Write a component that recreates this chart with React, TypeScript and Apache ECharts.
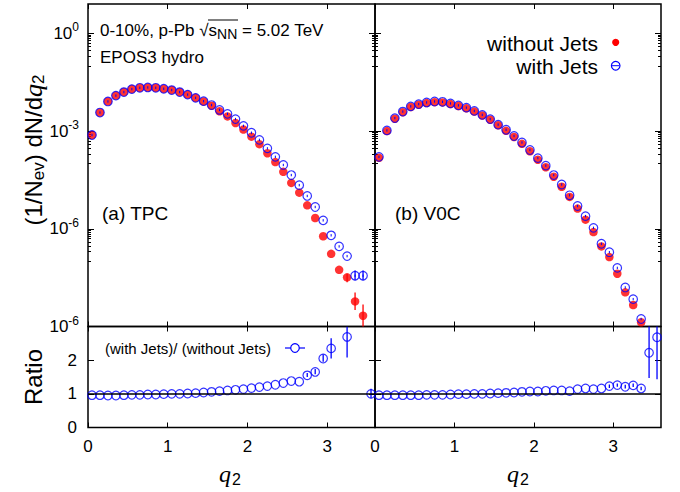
import React, { useEffect, useRef } from 'react';
import * as echarts from 'echarts';

// ---------------- data ----------------
const X_TPC = [0.05, 0.15, 0.25, 0.35, 0.45, 0.55, 0.65, 0.75, 0.85, 0.95, 1.05, 1.15, 1.25, 1.35, 1.45, 1.55, 1.65, 1.75, 1.85, 1.95, 2.05, 2.15, 2.25, 2.35, 2.45, 2.55, 2.65, 2.75, 2.85, 2.95, 3.05, 3.15, 3.25, 3.35, 3.45];
const TPC_WITHOUT = [7.59e-4, 3.72e-3, 8.13e-3, 1.23e-2, 1.58e-2, 1.95e-2, 2.14e-2, 2.19e-2, 2.14e-2, 2.0e-2, 1.82e-2, 1.58e-2, 1.32e-2, 1.05e-2, 8.13e-3, 6.03e-3, 4.07e-3, 2.82e-3, 1.78e-3, 1.12e-3, 6.76e-4, 3.98e-4, 2.09e-4, 1.12e-4, 5.62e-5, 2.57e-5, 1.29e-5, 5.25e-6, 2.14e-6, 5.89e-7, 1.7e-7, 5.5e-8, 3.24e-8, 5.9e-9, 2.14e-9];
const TPC_WITH = [7.59e-4, 3.72e-3, 8.13e-3, 1.23e-2, 1.58e-2, 1.95e-2, 2.14e-2, 2.19e-2, 2.14e-2, 2.0e-2, 1.82e-2, 1.58e-2, 1.32e-2, 1.05e-2, 8.32e-3, 6.31e-3, 4.47e-3, 3.39e-3, 2.34e-3, 1.45e-3, 8.91e-4, 5.37e-4, 2.95e-4, 1.62e-4, 9.12e-5, 4.47e-5, 2.19e-5, 1.02e-5, 4.68e-6, 1.82e-6, 6.31e-7, 2.88e-7, 1.45e-7, 3.63e-8, 3.63e-8];

const X_V0C = [0.05, 0.15, 0.25, 0.35, 0.45, 0.55, 0.65, 0.75, 0.85, 0.95, 1.05, 1.15, 1.25, 1.35, 1.45, 1.55, 1.65, 1.75, 1.85, 1.95, 2.05, 2.15, 2.25, 2.35, 2.45, 2.55, 2.65, 2.75, 2.85, 2.95, 3.05, 3.15, 3.25, 3.35];
const V0C_WITHOUT = [1.51e-4, 1.0e-3, 2.4e-3, 3.8e-3, 5.5e-3, 6.46e-3, 7.24e-3, 7.76e-3, 7.59e-3, 6.76e-3, 5.89e-3, 5.01e-3, 3.98e-3, 3.02e-3, 2.24e-3, 1.51e-3, 1.02e-3, 6.61e-4, 4.07e-4, 2.4e-4, 1.32e-4, 7.76e-5, 3.98e-5, 1.95e-5, 9.55e-6, 4.17e-6, 1.91e-6, 7.94e-7, 2.88e-7, 1.35e-7, 4.17e-8, 1.12e-8, 4.57e-9, 1.35e-9];
const V0C_WITH = [1.62e-4, 1.05e-3, 2.51e-3, 3.98e-3, 5.75e-3, 6.76e-3, 7.59e-3, 8.13e-3, 7.94e-3, 7.08e-3, 6.17e-3, 5.25e-3, 4.17e-3, 3.16e-3, 2.34e-3, 1.58e-3, 1.1e-3, 7.08e-4, 4.47e-4, 2.63e-4, 1.48e-4, 8.71e-5, 4.47e-5, 2.29e-5, 1.07e-5, 5.01e-6, 2.45e-6, 1.07e-6, 3.47e-7, 1.91e-7, 6.31e-8, 1.58e-8, 6.92e-9, 1.7e-9];

const X_RATIO_TPC = [0.05, 0.15, 0.25, 0.35, 0.45, 0.55, 0.65, 0.75, 0.85, 0.95, 1.05, 1.15, 1.25, 1.35, 1.45, 1.55, 1.65, 1.75, 1.85, 1.95, 2.05, 2.15, 2.25, 2.35, 2.45, 2.55, 2.65, 2.75, 2.85, 2.95, 3.05, 3.25, 3.55];
const RATIO_TPC = [0.96, 0.96, 0.95, 0.95, 0.96, 0.97, 0.97, 0.98, 0.98, 0.99, 1.0, 1.0, 1.01, 1.02, 1.04, 1.06, 1.08, 1.1, 1.12, 1.14, 1.17, 1.2, 1.23, 1.27, 1.32, 1.38, 1.36, 1.55, 1.65, 2.05, 2.35, 2.69, 1.0];
const X_RATIO_V0C = [0.05, 0.15, 0.25, 0.35, 0.45, 0.55, 0.65, 0.75, 0.85, 0.95, 1.05, 1.15, 1.25, 1.35, 1.45, 1.55, 1.65, 1.75, 1.85, 1.95, 2.05, 2.15, 2.25, 2.35, 2.45, 2.55, 2.65, 2.75, 2.85, 2.95, 3.05, 3.15, 3.25, 3.35, 3.45, 3.55];
const RATIO_V0C = [0.96, 0.96, 0.96, 0.96, 0.96, 0.96, 0.97, 0.97, 0.97, 0.98, 0.99, 0.99, 1.0, 1.0, 1.01, 1.02, 1.03, 1.04, 1.06, 1.07, 1.07, 1.09, 1.1, 1.1, 1.08, 1.14, 1.16, 1.14, 1.16, 1.23, 1.26, 1.21, 1.25, 1.16, 2.22, 2.68];

// visible error bars
const ERR_TPC_WITHOUT_X = [3.25, 3.35, 3.45];
const ERR_TPC_WITHOUT_LO = [2.3e-8, 3.2e-9, 9.3e-10];
const ERR_TPC_WITHOUT_HI = [4.1e-8, 1.1e-8, 4.7e-9];
const ERR_TPC_WITH_X = [3.35, 3.45];
const ERR_TPC_WITH_LO = [2.6e-8, 2.6e-8];
const ERR_TPC_WITH_HI = [5.2e-8, 5.2e-8];
const ERR_RATIO_TPC_X = [2.75, 2.85, 2.95, 3.05, 3.25, 3.55];
const ERR_RATIO_TPC_LO = [1.5, 1.58, 1.95, 2.05, 2.08, 0.87];
const ERR_RATIO_TPC_HI = [1.62, 1.74, 2.17, 2.65, 3.0, 1.15];
const ERR_RATIO_V0C_X = [2.95, 3.05, 3.15, 3.25, 3.35, 3.45, 3.55];
const ERR_RATIO_V0C_LO = [1.17, 1.21, 1.16, 1.2, 1.11, 1.47, 1.43];
const ERR_RATIO_V0C_HI = [1.28, 1.31, 1.27, 1.31, 1.21, 3.3, 3.3];

// axes
const X_TICKS = [0, 1, 2, 3];
const LOG_MAJOR = [1e-9, 1e-6, 1e-3, 1];
const LOG_MAJOR_LABELS = ['10^-6', '10^-6', '10^-3', '10^0']; // as printed in the figure
const LOG_MINOR = [0.1, 0.2, 0.3, 0.4, 0.5, 0.6, 0.7, 0.8, 0.9, 1e-4, 2e-4, 3e-4, 4e-4, 5e-4, 6e-4, 7e-4, 8e-4, 9e-4, 1e-7, 2e-7, 3e-7, 4e-7, 5e-7, 6e-7, 7e-7, 8e-7, 9e-7];
const RATIO_TICKS = [0, 1, 2, 3];
const RATIO_LABELS = [0, 1, 2];

const FONT = '"Liberation Sans", Arial, Helvetica, sans-serif';
const SERIF = '"Liberation Serif", "Times New Roman", serif';
const RED = '#ff0000';
const BLUE = '#0000ff';

const zip = (xs: number[], ys: number[]) => xs.map((x, i) => [x, ys[i]]);
const zip3 = (xs: number[], a: number[], b: number[]) => xs.map((x, i) => [x, a[i], b[i]]);

function App() {
  const ref = useRef<HTMLDivElement>(null);
  useEffect(() => {
    if (!ref.current) return;
    const chart = echarts.init(ref.current, null, { renderer: 'svg' });

    const grids = [
      { left: 88, top: 4, width: 287, height: 322.5 },
      { left: 375, top: 4, width: 286, height: 322.5 },
      { left: 88, top: 326.5, width: 287, height: 101 },
      { left: 375, top: 326.5, width: 286, height: 101 },
    ].map((g) => ({ ...g, show: true, borderColor: '#000', borderWidth: 1.5, backgroundColor: 'transparent', containLabel: false, outerBoundsMode: 'none' }));

    const xAxesFor = (gridIndex: number, labels: boolean) => [
      {
        type: 'value', gridIndex, min: 0, max: 3.6, position: 'bottom',
        axisLine: { show: false, onZero: false }, splitLine: { show: false },
        axisTick: { show: true, inside: true, length: 5, customValues: X_TICKS, lineStyle: { color: '#000', width: 1 } },
        axisLabel: { show: labels, customValues: X_TICKS, color: '#000', fontSize: 17, fontFamily: FONT, margin: 10 },
      },
      {
        type: 'value', gridIndex, min: 0, max: 3.6, position: 'top',
        axisLine: { show: false, onZero: false }, splitLine: { show: false },
        axisTick: { show: true, inside: true, length: 5, customValues: X_TICKS, lineStyle: { color: '#000', width: 1 } },
        axisLabel: { show: false },
      },
    ];

    const logLabel = (v: number) => {
      let best = 0;
      LOG_MAJOR.forEach((t, i) => {
        if (Math.abs(Math.log10(t) - Math.log10(v)) < Math.abs(Math.log10(LOG_MAJOR[best]) - Math.log10(v))) best = i;
      });
      const [b, e] = LOG_MAJOR_LABELS[best].split('^');
      return `{b|${b}}{s|${e}}`;
    };

    const logAxesFor = (gridIndex: number, labels: boolean) => {
      const base = {
        type: 'log', logBase: 10, gridIndex, min: 1e-9, max: 8,
        axisLine: { show: false, onZero: false }, splitLine: { show: false },
      };
      return [
        {
          ...base, position: 'left',
          axisTick: { show: true, inside: true, length: 6, customValues: LOG_MAJOR, lineStyle: { color: '#000', width: 1 } },
          axisLabel: {
            show: labels, customValues: LOG_MAJOR, margin: 9, formatter: logLabel,
            rich: {
              b: { fontSize: 17, fontFamily: FONT, color: '#000' },
              s: { fontSize: 12, fontFamily: FONT, color: '#000', padding: [0, 0, 12, 0] },
            },
          },
        },
        {
          ...base, position: 'left',
          axisTick: { show: true, inside: true, length: 3, customValues: LOG_MINOR, lineStyle: { color: '#000', width: 1 } },
          axisLabel: { show: false },
        },
        {
          ...base, position: 'right',
          axisTick: { show: true, inside: true, length: 6, customValues: LOG_MAJOR, lineStyle: { color: '#000', width: 1 } },
          axisLabel: { show: false },
        },
        {
          ...base, position: 'right',
          axisTick: { show: true, inside: true, length: 3, customValues: LOG_MINOR, lineStyle: { color: '#000', width: 1 } },
          axisLabel: { show: false },
        },
      ];
    };

    const ratioAxesFor = (gridIndex: number, labels: boolean) => {
      const base = {
        type: 'value', gridIndex, min: 0, max: 3,
        axisLine: { show: false, onZero: false }, splitLine: { show: false },
      };
      return [
        {
          ...base, position: 'left',
          axisTick: { show: true, inside: true, length: 6, customValues: RATIO_TICKS, lineStyle: { color: '#000', width: 1 } },
          axisLabel: { show: labels, customValues: RATIO_LABELS, color: '#000', fontSize: 17, fontFamily: FONT, margin: 11 },
        },
        {
          ...base, position: 'right',
          axisTick: { show: true, inside: true, length: 6, customValues: RATIO_TICKS, lineStyle: { color: '#000', width: 1 } },
          axisLabel: { show: false },
        },
      ];
    };

    const xAxis = [...xAxesFor(0, false), ...xAxesFor(1, false), ...xAxesFor(2, true), ...xAxesFor(3, true)];
    const yAxis = [...logAxesFor(0, true), ...logAxesFor(1, false), ...ratioAxesFor(2, true), ...ratioAxesFor(3, false)];
    const X_IDX = [0, 2, 4, 6];
    const Y_IDX = [0, 4, 8, 10];

    const errSeries = (g: number, data: number[][], color: string) => ({
      type: 'custom', xAxisIndex: X_IDX[g], yAxisIndex: Y_IDX[g], clip: true, silent: true,
      encode: { x: 0, y: [1, 2] },
      data,
      renderItem: (params: any, api: any) => {
        const p1 = api.coord([api.value(0), api.value(1)]);
        const p2 = api.coord([api.value(0), api.value(2)]);
        return { type: 'line', shape: { x1: p1[0], y1: p1[1], x2: p2[0], y2: p2[1] }, style: { stroke: color, lineWidth: 1.3 } };
      },
    });

    const centerTick = (g: number, data: number[][]) => ({
      type: 'custom', xAxisIndex: X_IDX[g], yAxisIndex: Y_IDX[g], clip: true, silent: true,
      encode: { x: 0, y: 1 },
      data,
      z: 3,
      renderItem: (params: any, api: any) => {
        const p = api.coord([api.value(0), api.value(1)]);
        return { type: 'line', shape: { x1: p[0], y1: p[1] - 1.2, x2: p[0], y2: p[1] + 1.2 }, style: { stroke: BLUE, lineWidth: 1 } };
      },
    });

    const redScatter = (g: number, data: number[][]) => ({
      type: 'scatter', xAxisIndex: X_IDX[g], yAxisIndex: Y_IDX[g], data, symbol: 'circle', symbolSize: 8.5,
      itemStyle: { color: RED }, silent: true, z: 2,
    });
    const blueScatter = (g: number, data: number[][], extra: any = {}) => ({
      type: 'scatter', xAxisIndex: X_IDX[g], yAxisIndex: Y_IDX[g], data, symbol: 'circle', symbolSize: 8.5,
      itemStyle: { color: 'rgba(0,0,0,0)', borderColor: BLUE, borderWidth: 1.2 }, silent: true, z: 3, ...extra,
    });

    const oneLine = {
      silent: true, symbol: 'none', label: { show: false },
      lineStyle: { color: '#000', width: 1.5, type: 'solid' },
      data: [{ yAxis: 1 }],
    };

    const series = [
      errSeries(0, zip3(ERR_TPC_WITHOUT_X, ERR_TPC_WITHOUT_LO, ERR_TPC_WITHOUT_HI), RED),
      redScatter(0, zip(X_TPC, TPC_WITHOUT)),
      errSeries(0, zip3(ERR_TPC_WITH_X, ERR_TPC_WITH_LO, ERR_TPC_WITH_HI), BLUE),
      blueScatter(0, zip(X_TPC, TPC_WITH)),
      centerTick(0, zip(X_TPC, TPC_WITH)),
      redScatter(1, zip(X_V0C, V0C_WITHOUT)),
      blueScatter(1, zip(X_V0C, V0C_WITH)),
      centerTick(1, zip(X_V0C, V0C_WITH)),
      errSeries(2, zip3(ERR_RATIO_TPC_X, ERR_RATIO_TPC_LO, ERR_RATIO_TPC_HI), BLUE),
      blueScatter(2, zip(X_RATIO_TPC, RATIO_TPC), { markLine: oneLine }),
      errSeries(3, zip3(ERR_RATIO_V0C_X, ERR_RATIO_V0C_LO, ERR_RATIO_V0C_HI), BLUE),
      blueScatter(3, zip(X_RATIO_V0C, RATIO_V0C), { markLine: oneLine }),
    ];

    const txt = (x: number, y: number, text: string, size: number, align = 'left', extra: any = {}) => ({
      type: 'text', x, y, silent: true, z: 10,
      style: { text, fill: '#000', fontSize: size, fontFamily: FONT, align, verticalAlign: 'middle', ...extra },
    });

    const graphic = [
      // y-axis titles
      {
        type: 'text', x: 33, y: 150, rotation: Math.PI / 2, silent: true,
        style: {
          text: '{a|(1/N}{sub|ev}{a|) dN/d}{q|q}{sub|2}', align: 'center', verticalAlign: 'middle', fill: '#000',
          rich: {
            a: { fontSize: 24, fontFamily: FONT, fill: '#000' },
            sub: { fontSize: 17, fontFamily: FONT, fill: '#000', padding: [10, 0, 0, 0] },
            q: { fontSize: 26, fontFamily: SERIF, fontStyle: 'italic', fill: '#000' },
          },
        },
      },
      {
        type: 'text', x: 33, y: 377, rotation: Math.PI / 2, silent: true,
        style: { text: 'Ratio', align: 'center', verticalAlign: 'middle', fill: '#000', fontSize: 24, fontFamily: FONT },
      },
      // x-axis titles
      ...[230, 518].map((cx) => ({
        type: 'text', x: cx, y: 474, silent: true,
        style: {
          text: '{q|q}{sub|2}', align: 'center', verticalAlign: 'middle', fill: '#000',
          rich: {
            q: { fontSize: 24, fontFamily: SERIF, fontStyle: 'italic', fill: '#000' },
            sub: { fontSize: 16, fontFamily: FONT, fill: '#000', padding: [10, 0, 0, 1] },
          },
        },
      })),
      // header text
      {
        type: 'text', x: 100, y: 30, silent: true,
        style: {
          text: '{a|0-10%, p-Pb √}{a|s}{sub|NN}{a| = 5.02 TeV}', align: 'left', verticalAlign: 'middle', fill: '#000',
          rich: {
            a: { fontSize: 17, fontFamily: FONT, fill: '#000' },
            sub: { fontSize: 14, fontFamily: FONT, fill: '#000', padding: [8, 0, 0, 0] },
          },
        },
      },
      { type: 'line', silent: true, shape: { x1: 208, y1: 20, x2: 238, y2: 20 }, style: { stroke: '#000', lineWidth: 1 } },
      txt(100, 57, 'EPOS3 hydro', 17),
      txt(102, 213, '(a) TPC', 19),
      txt(395, 213, '(b) V0C', 19),
      // legend
      txt(598, 43, 'without Jets', 21, 'right'),
      txt(598, 66, 'with Jets', 21, 'right'),
      { type: 'circle', silent: true, shape: { cx: 615.7, cy: 42.3, r: 3.6 }, style: { fill: RED } },
      { type: 'circle', silent: true, shape: { cx: 615.7, cy: 65.7, r: 4.3 }, style: { fill: 'none', stroke: BLUE, lineWidth: 1.2 } },
      { type: 'line', silent: true, shape: { x1: 612, y1: 65.7, x2: 619.4, y2: 65.7 }, style: { stroke: BLUE, lineWidth: 1 } },
      // ratio legend
      txt(105, 348, '(with Jets)/ (without Jets)', 15),
      { type: 'line', silent: true, shape: { x1: 285, y1: 348, x2: 305, y2: 348 }, style: { stroke: BLUE, lineWidth: 1.2 } },
      { type: 'circle', silent: true, shape: { cx: 295, cy: 348, r: 4.3 }, style: { fill: '#fff', stroke: BLUE, lineWidth: 1.2 } },
    ];

    chart.setOption({
      animation: false,
      backgroundColor: '#fff',
      textStyle: { fontFamily: FONT },
      grid: grids,
      xAxis,
      yAxis,
      series,
      graphic: { elements: graphic },
    } as any);

    return () => chart.dispose();
  }, []);

  return <div ref={ref} style={{ position: 'absolute', left: 0, top: 0, width: 680, height: 492 }} />;
}

export default App;
